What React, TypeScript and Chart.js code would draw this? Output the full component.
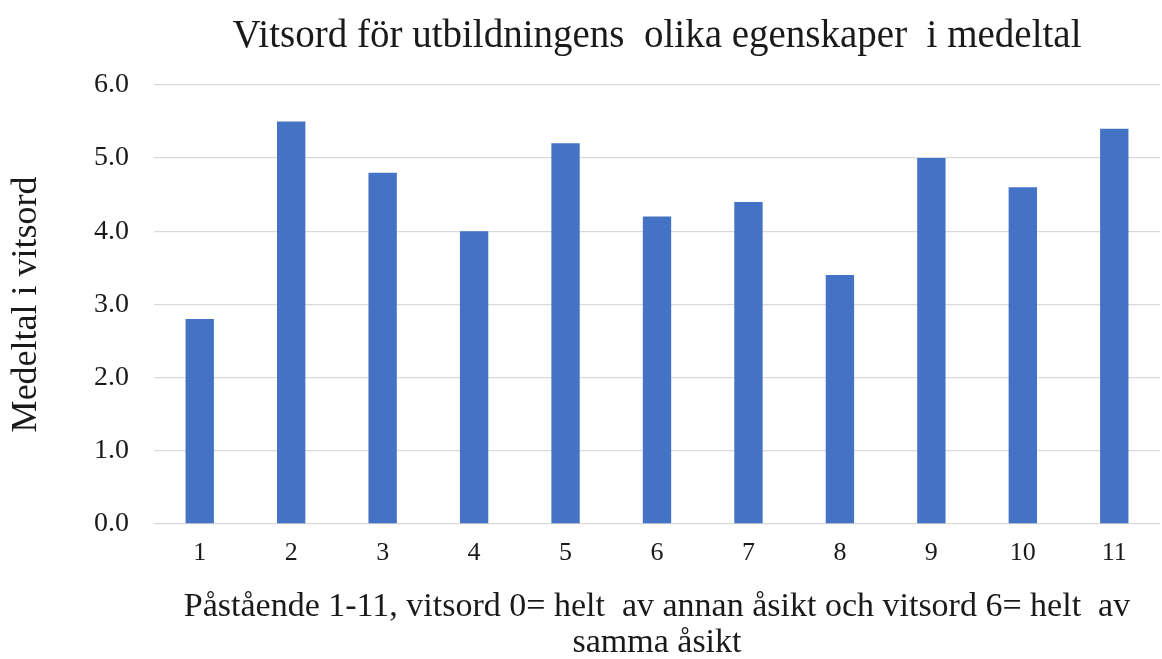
import React, { useEffect, useRef } from "react";
import { Chart, registerables } from "chart.js";

Chart.register(...registerables);

const categories: string[] = ["1", "2", "3", "4", "5", "6", "7", "8", "9", "10", "11"];
const values: number[] = [2.8, 5.5, 4.8, 4.0, 5.2, 4.2, 4.4, 3.4, 5.0, 4.6, 5.4];
const chartTitle = "Vitsord för utbildningens  olika egenskaper  i medeltal";
const yTitle = "Medeltal i vitsord";
const xTitle: string[] = [
  "Påstående 1-11, vitsord 0= helt  av annan åsikt och vitsord 6= helt  av",
  "samma åsikt",
];

const FONT = "'Liberation Serif', 'Times New Roman', serif";
const TEXT = "#1a1a1a";

export default function App() {
  const ref = useRef<HTMLCanvasElement | null>(null);
  useEffect(() => {
    if (!ref.current) return;
    const chart = new Chart(ref.current, {
      type: "bar",
      data: {
        labels: categories,
        datasets: [
          {
            data: values,
            backgroundColor: "#4472C4",
            borderWidth: 0,
            categoryPercentage: 1,
            barPercentage: 0.31,
          },
        ],
      },
      options: {
        animation: false,
        responsive: false,
        layout: { padding: { left: 0, right: 2, top: 0, bottom: 0 } },
        plugins: {
          legend: { display: false },
          tooltip: { enabled: false },
          title: {
            display: true,
            text: chartTitle,
            fullSize: false,
            color: TEXT,
            font: { family: FONT, size: 39, weight: "normal", lineHeight: 1.2 },
            padding: { top: 13, bottom: 25 },
          },
        },
        scales: {
          x: {
            grid: { display: false, drawTicks: false },
            border: { display: false },
            ticks: {
              color: TEXT,
              font: { family: FONT, size: 26 },
              padding: 14,
              maxRotation: 0,
            },
            title: {
              display: true,
              text: xTitle,
              color: TEXT,
              font: { family: FONT, size: 34, lineHeight: 1.05 },
              padding: { top: 0, bottom: -2 },
            },
            afterFit: (scale: any) => {
              scale.height = 135;
            },
          },
          y: {
            min: 0,
            max: 6,
            grid: { color: "#d9d9d9", lineWidth: 1.3, drawTicks: false },
            border: { display: false },
            ticks: {
              stepSize: 1,
              color: TEXT,
              font: { family: FONT, size: 28 },
              padding: 25,
              callback: (v: any) => Number(v).toFixed(1),
            },
            title: {
              display: true,
              text: yTitle,
              color: TEXT,
              font: { family: FONT, size: 36, lineHeight: 1.2 },
              padding: { top: 5, bottom: 0 },
            },
            afterFit: (scale: any) => {
              scale.width = 154;
            },
          },
        },
      },
    });
    return () => chart.destroy();
  }, []);
  return (
    <div style={{ position: "fixed", left: 0, top: 0, width: 1162, height: 659, background: "#fff" }}>
      <canvas ref={ref} width={1162} height={659} style={{ display: "block" }} />
    </div>
  );
}
